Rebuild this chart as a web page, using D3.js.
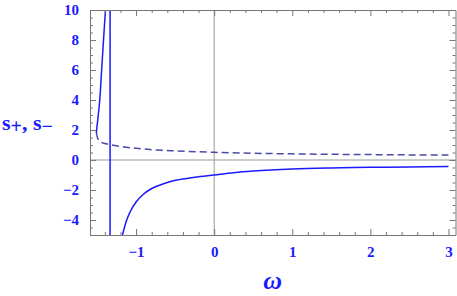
<!DOCTYPE html>
<html>
<head>
<meta charset="utf-8">
<script src="https://cdn.jsdelivr.net/npm/d3@7"></script>
<style>
  body { margin: 0; background: #fff; }
  text { font-family: "Liberation Serif", "DejaVu Serif", serif; font-weight: bold; fill: #1a1aff; }
</style>
</head>
<body>
<svg width="457" height="296"></svg>
<script>
// s+ upper-left branch (solid)
const omegaUpper = [-1.508, -1.502, -1.494, -1.484, -1.465, -1.441, -1.417, -1.392];
const sUpper = [1.8, 2.2, 2.5, 3.0, 4.0, 6.0, 8.0, 10.0];

// s+ lower branch (solid)
const omegaLower = [-1.174, -1.13, -1.08, -1.0, -0.91, -0.8, -0.7, -0.6, -0.48, -0.25, 0, 0.25, 0.5, 1, 1.5, 2, 2.5, 3];
const sLower = [-5.0, -4.15, -3.5, -2.8, -2.3, -1.9, -1.68, -1.5, -1.34, -1.15, -1.0, -0.85, -0.74, -0.6, -0.53, -0.49, -0.46, -0.44];

// s- (dashed)
const omegaMinus = [-1.508, -1.49, -1.45, -1.4, -1.333, -1.2, -1.0, -0.85, -0.5, 0, 0.5, 1, 1.5, 2, 2.5, 3];
const sMinus = [1.8, 1.42, 1.2, 1.1, 1.03, 0.9, 0.78, 0.71, 0.61, 0.51, 0.45, 0.41, 0.38, 0.36, 0.34, 0.33];

// pole
const poleOmega = -1.333;

const xTicks = [-1, 0, 1, 2, 3];
const yTicks = [-4, -2, 0, 2, 4, 6, 8, 10];

const svg = d3.select('svg');
const margin = { top: 10, right: 1.5, bottom: 61, left: 90 };
const width = +svg.attr('width') - margin.left - margin.right;
const height = +svg.attr('height') - margin.top - margin.bottom;

const g = svg.append('g').attr('transform', `translate(${margin.left},${margin.top})`);

const x = d3.scaleLinear().domain([-1.59, 3.09]).range([0, width]);
const y = d3.scaleLinear().domain([-5, 10]).range([height, 0]);

svg.append('defs').append('clipPath').attr('id', 'clip')
  .append('rect').attr('width', width).attr('height', height);

// zero axes
g.append('line').attr('x1', x(0)).attr('x2', x(0)).attr('y1', 0).attr('y2', height)
  .attr('stroke', '#999').attr('stroke-width', 1);
g.append('line').attr('x1', 0).attr('x2', width).attr('y1', y(0)).attr('y2', y(0))
  .attr('stroke', '#999').attr('stroke-width', 1);

const plot = g.append('g').attr('clip-path', 'url(#clip)');
const line = d3.line().x(d => x(d[0])).y(d => y(d[1])).curve(d3.curveMonotoneX);

plot.append('path').datum(d3.zip(omegaMinus, sMinus)).attr('d', line)
  .attr('fill', 'none').attr('stroke', '#4a4aa8').attr('stroke-width', 1.5)
  .attr('stroke-dasharray', '7,4');
plot.append('path').datum(d3.zip(omegaUpper, sUpper)).attr('d', line)
  .attr('fill', 'none').attr('stroke', '#1a1aff').attr('stroke-width', 1.5);
plot.append('path').datum(d3.zip(omegaLower, sLower)).attr('d', line)
  .attr('fill', 'none').attr('stroke', '#1a1aff').attr('stroke-width', 1.5);
plot.append('line').attr('x1', x(poleOmega)).attr('x2', x(poleOmega))
  .attr('y1', y(10)).attr('y2', y(-5))
  .attr('stroke', '#1a1aff').attr('stroke-width', 1.5);

// frame with inward ticks
const fmt = d => (d < 0 ? '\u2212' + Math.abs(d) : d);
const xMinor = d3.range(-1.4, 3.01, 0.2).map(v => +v.toFixed(2)).filter(v => !xTicks.includes(v));
const yMinor = d3.range(-5, 10.01, 0.5).filter(v => !yTicks.includes(v));

const axes = [
  { gen: () => d3.axisBottom(x), t: `translate(0,${height})`, ticks: xTicks, minor: xMinor, labels: true },
  { gen: () => d3.axisTop(x), t: 'translate(0,0)', ticks: xTicks, minor: xMinor, labels: false },
  { gen: () => d3.axisLeft(y), t: 'translate(0,0)', ticks: yTicks, minor: yMinor, labels: true },
  { gen: () => d3.axisRight(y), t: `translate(${width},0)`, ticks: yTicks, minor: yMinor, labels: false }
];

axes.forEach(a => {
  const ax = g.append('g').attr('transform', a.t);
  ax.call(a.gen().tickSizeInner(-6).tickSizeOuter(0).tickValues(a.ticks)
    .tickPadding(11).tickFormat(a.labels ? fmt : () => ''));
  ax.select('.domain').attr('stroke', '#777');
  ax.selectAll('.tick line').attr('stroke', '#777');
  ax.selectAll('.tick text').attr('font-size', 15).attr('fill', '#1a1aff')
    .attr('font-family', '"Liberation Serif", serif').attr('font-weight', 'bold');
  const mg = g.append('g').attr('transform', a.t)
    .call(a.gen().tickValues(a.minor).tickSizeInner(-3).tickSizeOuter(0).tickFormat(() => ''));
  mg.select('.domain').remove();
  mg.selectAll('.tick line').attr('stroke', '#777');
});

// axis titles
svg.append('text').attr('x', margin.left + width / 2).attr('y', 289)
  .attr('text-anchor', 'middle').attr('font-size', 26).attr('font-style', 'italic')
  .text('\u03c9');

const yl = svg.append('text').attr('x', 2).attr('y', 130).attr('font-size', 22);
yl.append('tspan').text('s');
yl.append('tspan').attr('dy', 3).attr('font-size', 20).text('+');
yl.append('tspan').attr('dy', -3).text(', s');
yl.append('tspan').attr('dy', 3).attr('font-size', 20).text('\u2212');
</script>
</body>
</html>
